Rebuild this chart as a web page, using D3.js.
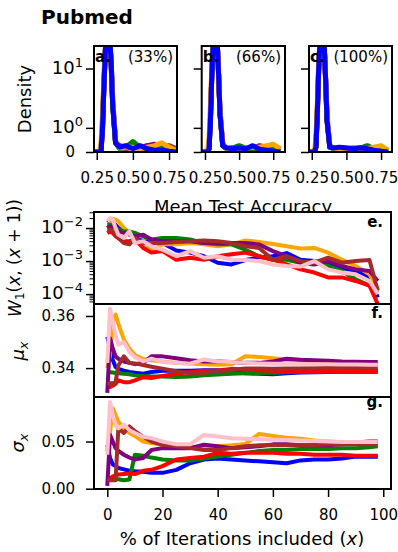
<!DOCTYPE html>
<html>
<head>
<meta charset="utf-8">
<script src="https://cdn.jsdelivr.net/npm/d3@7"></script>
<style>
body { margin: 0; background: #fff; }
text { font-family: "DejaVu Sans", sans-serif; }
</style>
</head>
<body>
<svg id="chart" width="398" height="552"></svg>
<script>
// series order used in every array below
var colors = ["blue", "orange", "green", "red", "purple", "brown", "pink"];

// ---- density panels (a, b, c) ----
var densX = [0.23, 0.27, 0.28, 0.29, 0.30, 0.31, 0.32, 0.33, 0.34, 0.35, 0.36, 0.38, 0.41, 0.45, 0.50, 0.55, 0.60, 0.65, 0.70, 0.75, 0.80];

var densA = [
    [0, 0, 0.05, 1, 6, 18, 30, 32, 25, 12, 3, 0.3, 0.15, 0.2, 0.1, 0.2, 0.1, 0.05, 0.05, 0.02, 0],
    [0, 0.02, 0.3, 2, 8, 20, 30, 30, 24, 12, 4, 0.4, 0.12, 0.15, 0.15, 0.1, 0.15, 0.2, 0.3, 0.15, 0.05],
    [0, 0, 0.05, 1, 6, 18, 30, 32, 25, 11, 3, 0.3, 0.1, 0.15, 0.35, 0.15, 0.1, 0.15, 0.1, 0.05, 0],
    [0, 0, 0.05, 1, 6, 18, 30, 32, 25, 11, 3, 0.3, 0.2, 0.15, 0.2, 0.1, 0.1, 0.05, 0.1, 0.05, 0],
    [0, 0, 0.05, 1, 6, 18, 30, 32, 25, 11, 3, 0.3, 0.1, 0.15, 0.2, 0.1, 0.2, 0.25, 0.15, 0.1, 0.05],
    [0, 0.01, 0.15, 1.5, 7, 19, 30, 31, 24, 12, 3.5, 0.35, 0.15, 0.1, 0.15, 0.15, 0.2, 0.15, 0.2, 0.2, 0.1],
    [0, 0, 0.1, 1.2, 6, 18, 30, 32, 25, 11, 3, 0.3, 0.15, 0.2, 0.15, 0.1, 0.15, 0.1, 0.1, 0.05, 0]
];
var densB = [
    [0, 0, 0.1, 1.5, 8, 22, 32, 32, 22, 8, 2, 0.2, 0.12, 0.1, 0.12, 0.1, 0.2, 0.08, 0.05, 0.02, 0],
    [0, 0.05, 0.5, 3, 10, 24, 32, 31, 21, 8, 2.5, 0.3, 0.1, 0.1, 0.1, 0.12, 0.15, 0.15, 0.2, 0.25, 0.1],
    [0, 0, 0.1, 1.5, 8, 22, 32, 32, 22, 8, 2, 0.2, 0.1, 0.12, 0.2, 0.12, 0.1, 0.1, 0.15, 0.05, 0],
    [0, 0, 0.1, 1.5, 8, 22, 32, 32, 22, 8, 2, 0.2, 0.1, 0.1, 0.12, 0.1, 0.1, 0.1, 0.1, 0.05, 0],
    [0, 0, 0.1, 1.5, 8, 22, 32, 32, 22, 8, 2, 0.2, 0.1, 0.12, 0.1, 0.1, 0.12, 0.2, 0.15, 0.05, 0],
    [0, 0, 0.15, 2, 9, 22, 32, 32, 22, 8, 2.2, 0.25, 0.12, 0.1, 0.12, 0.1, 0.1, 0.15, 0.15, 0.1, 0.05],
    [0, 0, 0.1, 1.5, 8, 22, 32, 32, 22, 8, 2, 0.25, 0.12, 0.12, 0.12, 0.12, 0.12, 0.12, 0.12, 0.1, 0.05]
];
var densC = [
    [0, 0, 0.15, 2, 10, 25, 33, 32, 20, 7, 1.5, 0.15, 0.12, 0.15, 0.12, 0.1, 0.12, 0.1, 0.05, 0.02, 0],
    [0, 0.05, 0.5, 3, 12, 26, 33, 31, 20, 7, 2, 0.2, 0.1, 0.1, 0.1, 0.12, 0.1, 0.1, 0.15, 0.2, 0.05],
    [0, 0, 0.15, 2, 10, 25, 33, 32, 20, 7, 1.5, 0.15, 0.1, 0.1, 0.12, 0.1, 0.12, 0.2, 0.1, 0.05, 0],
    [0, 0, 0.15, 2, 10, 25, 33, 32, 20, 7, 1.5, 0.15, 0.1, 0.1, 0.1, 0.1, 0.1, 0.1, 0.1, 0.05, 0],
    [0, 0, 0.15, 2, 10, 25, 33, 32, 20, 7, 1.5, 0.15, 0.1, 0.12, 0.1, 0.12, 0.12, 0.15, 0.1, 0.05, 0],
    [0, 0, 0.2, 2.5, 11, 25, 33, 32, 20, 7, 1.8, 0.2, 0.12, 0.1, 0.1, 0.1, 0.1, 0.1, 0.12, 0.1, 0.05],
    [0, 0, 0.15, 2, 10, 25, 33, 32, 20, 7, 1.5, 0.2, 0.12, 0.12, 0.12, 0.1, 0.1, 0.1, 0.1, 0.08, 0.05]
];
var densLetters = ["a.", "b.", "c."];
var densPercents = ["(33%)", "(66%)", "(100%)"];
var accTicks = [0.25, 0.50, 0.75];
var densTicks = [0, 1, 10];

// ---- iteration panels (e, f, g) ----
var iters = [0, 1, 2, 3, 4, 6, 8, 10, 13, 16, 20, 25, 30, 35, 40, 45, 50, 55, 60, 65, 70, 75, 80, 85, 90, 95, 98];

var w1 = [
    [1.74e-2, 1.6e-2, 1.4e-2, 1.26e-2, 1.0e-2, 7.9e-3, 7.1e-3, 5.0e-3, 4.0e-3, 3.8e-3, 3.5e-3, 2.1e-3, 1.8e-3, 1.4e-3, 8.9e-4, 7.9e-4, 1.07e-3, 1.26e-3, 1.4e-3, 1.74e-3, 1.1e-3, 1.0e-3, 7.9e-4, 6.3e-4, 5.0e-4, 3.2e-4, 7.9e-5],
    [1.0e-2, 1.26e-2, 1.9e-2, 1.8e-2, 1.6e-2, 1.0e-2, 7.1e-3, 4.5e-3, 2.8e-3, 2.1e-3, 3.2e-3, 3.2e-3, 3.5e-3, 3.2e-3, 2.8e-3, 3.2e-3, 4.2e-3, 3.8e-3, 3.3e-3, 2.8e-3, 2.4e-3, 2.5e-3, 1.8e-3, 1.1e-3, 7.1e-4, 4.0e-4, 1.4e-4],
    [1.26e-2, 1.26e-2, 1.1e-2, 1.0e-2, 8.9e-3, 7.9e-3, 7.9e-3, 7.1e-3, 5.6e-3, 4.5e-3, 5.0e-3, 5.0e-3, 4.5e-3, 3.5e-3, 3.2e-3, 3.2e-3, 2.2e-3, 1.4e-3, 1.1e-3, 1.1e-3, 8.9e-4, 8.9e-4, 7.1e-4, 5.0e-4, 2.8e-4, 1.8e-4, 1.1e-4],
    [7.1e-3, 7.9e-3, 7.1e-3, 5.6e-3, 5.0e-3, 4.0e-3, 4.0e-3, 4.5e-3, 2.5e-3, 1.8e-3, 2.0e-3, 1.1e-3, 1.26e-3, 1.1e-3, 1.4e-3, 1.6e-3, 1.8e-3, 1.4e-3, 1.1e-3, 7.9e-4, 5.6e-4, 4.5e-4, 3.2e-4, 3.2e-4, 2.5e-4, 1.8e-4, 5.0e-5],
    [1.0e-2, 1.1e-2, 1.1e-2, 1.0e-2, 7.9e-3, 7.1e-3, 6.3e-3, 5.6e-3, 6.3e-3, 4.5e-3, 4.0e-3, 4.0e-3, 4.0e-3, 3.5e-3, 3.5e-3, 3.5e-3, 3.5e-3, 3.2e-3, 2.0e-3, 1.4e-3, 8.9e-4, 7.9e-4, 1.0e-3, 7.1e-4, 5.6e-4, 5.0e-4, 2.5e-4],
    [8.9e-3, 8.9e-3, 7.9e-3, 6.3e-3, 5.0e-3, 3.5e-3, 3.2e-3, 5.0e-3, 3.5e-3, 3.5e-3, 3.5e-3, 3.8e-3, 4.0e-3, 4.2e-3, 4.0e-3, 3.5e-3, 2.8e-3, 2.5e-3, 1.1e-3, 1.4e-3, 1.0e-3, 8.9e-4, 1.26e-3, 8.9e-4, 1.0e-3, 1.07e-3, 1.26e-4],
    [1.6e-2, 2.0e-2, 1.8e-2, 1.0e-2, 6.3e-3, 5.0e-3, 7.9e-3, 3.5e-3, 4.0e-3, 2.8e-3, 2.2e-3, 1.4e-3, 2.0e-3, 1.26e-3, 1.4e-3, 1.1e-3, 1.07e-3, 1.0e-3, 7.9e-4, 7.1e-4, 6.8e-4, 1.0e-3, 5.6e-4, 4.5e-4, 4.0e-4, 2.5e-4, 1.0e-4]
];

var mu = [
    [0.3520, 0.3474, 0.3430, 0.3404, 0.3397, 0.3390, 0.3385, 0.3382, 0.3378, 0.3385, 0.3390, 0.3390, 0.3390, 0.3392, 0.3392, 0.3385, 0.3380, 0.3378, 0.3376, 0.3380, 0.3383, 0.3384, 0.3385, 0.3386, 0.3387, 0.3388, 0.3389],
    [0.3400, 0.3450, 0.3580, 0.3605, 0.3570, 0.3510, 0.3475, 0.3450, 0.3435, 0.3430, 0.3425, 0.3420, 0.3418, 0.3415, 0.3413, 0.3415, 0.3445, 0.3443, 0.3438, 0.3432, 0.3428, 0.3425, 0.3422, 0.3420, 0.3418, 0.3418, 0.3417],
    [0.3385, 0.3384, 0.3383, 0.3381, 0.3380, 0.3378, 0.3376, 0.3372, 0.3370, 0.3368, 0.3368, 0.3366, 0.3368, 0.3372, 0.3375, 0.3378, 0.3380, 0.3381, 0.3382, 0.3384, 0.3386, 0.3387, 0.3388, 0.3389, 0.3390, 0.3391, 0.3392],
    [0.3333, 0.3327, 0.3333, 0.3340, 0.3353, 0.3346, 0.3346, 0.3353, 0.3365, 0.3362, 0.3370, 0.3378, 0.3385, 0.3390, 0.3391, 0.3397, 0.3395, 0.3392, 0.3390, 0.3388, 0.3387, 0.3386, 0.3386, 0.3385, 0.3385, 0.3385, 0.3385],
    [0.3305, 0.3515, 0.3474, 0.3445, 0.3436, 0.3425, 0.3420, 0.3415, 0.3420, 0.3445, 0.3445, 0.3438, 0.3430, 0.3425, 0.3425, 0.3423, 0.3420, 0.3420, 0.3425, 0.3436, 0.3432, 0.3430, 0.3428, 0.3425, 0.3424, 0.3423, 0.3423],
    [0.3340, 0.3342, 0.3342, 0.3345, 0.3410, 0.3445, 0.3420, 0.3418, 0.3412, 0.3405, 0.3398, 0.3388, 0.3380, 0.3382, 0.3388, 0.3393, 0.3398, 0.3398, 0.3397, 0.3398, 0.3398, 0.3399, 0.3400, 0.3400, 0.3400, 0.3401, 0.3401],
    [0.3420, 0.3628, 0.3577, 0.3526, 0.3490, 0.3500, 0.3462, 0.3442, 0.3426, 0.3436, 0.3423, 0.3420, 0.3417, 0.3433, 0.3425, 0.3423, 0.3420, 0.3418, 0.3417, 0.3417, 0.3416, 0.3415, 0.3415, 0.3414, 0.3414, 0.3413, 0.3413]
];

var sigma = [
    [0.0466, 0.0326, 0.0256, 0.0240, 0.0220, 0.0205, 0.0190, 0.0185, 0.0180, 0.0168, 0.0168, 0.0200, 0.0270, 0.0310, 0.0320, 0.0310, 0.0300, 0.0290, 0.0280, 0.0270, 0.0300, 0.0310, 0.0310, 0.0320, 0.0340, 0.0340, 0.0340],
    [0.0400, 0.0600, 0.0850, 0.0780, 0.0710, 0.0640, 0.0590, 0.0560, 0.0500, 0.0485, 0.0466, 0.0450, 0.0440, 0.0450, 0.0450, 0.0460, 0.0475, 0.0580, 0.0560, 0.0540, 0.0530, 0.0510, 0.0500, 0.0490, 0.0480, 0.0470, 0.0470],
    [0.0098, 0.0100, 0.0100, 0.0100, 0.0100, 0.0090, 0.0098, 0.0360, 0.0350, 0.0330, 0.0310, 0.0300, 0.0300, 0.0320, 0.0340, 0.0360, 0.0380, 0.0400, 0.0410, 0.0410, 0.0420, 0.0420, 0.0420, 0.0430, 0.0430, 0.0440, 0.0450],
    [0.0116, 0.0110, 0.0130, 0.0140, 0.0150, 0.0155, 0.0160, 0.0155, 0.0190, 0.0200, 0.0240, 0.0310, 0.0326, 0.0340, 0.0380, 0.0370, 0.0380, 0.0380, 0.0380, 0.0370, 0.0370, 0.0360, 0.0360, 0.0360, 0.0350, 0.0350, 0.0350],
    [0.0030, 0.0570, 0.0500, 0.0430, 0.0400, 0.0360, 0.0330, 0.0310, 0.0326, 0.0410, 0.0430, 0.0430, 0.0430, 0.0466, 0.0450, 0.0430, 0.0440, 0.0450, 0.0470, 0.0470, 0.0460, 0.0460, 0.0460, 0.0470, 0.0490, 0.0500, 0.0500],
    [0.0098, 0.0090, 0.0090, 0.0090, 0.0640, 0.0590, 0.0660, 0.0610, 0.0550, 0.0500, 0.0466, 0.0450, 0.0430, 0.0410, 0.0410, 0.0430, 0.0450, 0.0460, 0.0460, 0.0460, 0.0460, 0.0460, 0.0470, 0.0470, 0.0470, 0.0470, 0.0470],
    [0.0360, 0.0920, 0.0780, 0.0670, 0.0640, 0.0680, 0.0620, 0.0590, 0.0550, 0.0536, 0.0500, 0.0470, 0.0470, 0.0570, 0.0553, 0.0536, 0.0530, 0.0525, 0.0520, 0.0515, 0.0510, 0.0505, 0.0500, 0.0495, 0.0495, 0.0495, 0.0495]
];

var iterTicks = [0, 20, 40, 60, 80, 100];
var muTicks = [0.34, 0.36];
var sigmaTicks = [0.00, 0.05];
var w1Ticks = [1e-2, 1e-3, 1e-4];


var svg = d3.select("#chart");
svg.append("rect").attr("width", 398).attr("height", 552).attr("fill", "white");

var tickLen = 8, yPad = 11, xPad = 12;

function styleAxis(g) {
    g.select(".domain").remove();
    g.selectAll(".tick line").attr("stroke", "black").attr("stroke-width", 1.5);
    g.selectAll(".tick text")
        .attr("fill", "black")
        .style("font-family", "'DejaVu Sans', sans-serif")
        .style("font-size", "15px");
}

function powLabel(sel, exp) {
    sel.text(null);
    sel.append("tspan").style("font-size", "18px").text("10");
    sel.append("tspan").attr("dy", "-0.55em").style("font-size", "13px").text(exp);
}

function clipFor(id, x0, y0, x1, y1) {
    svg.append("clipPath").attr("id", id)
        .append("rect").attr("x", x0).attr("y", y0).attr("width", x1 - x0).attr("height", y1 - y0);
}

function frame(x0, y0, x1, y1) {
    svg.append("rect")
        .attr("x", x0).attr("y", y0)
        .attr("width", x1 - x0).attr("height", y1 - y0)
        .attr("fill", "none").attr("stroke", "black").attr("stroke-width", 2);
}

// title
svg.append("text").attr("x", 41).attr("y", 24)
    .style("font-size", "20px").style("font-weight", "bold")
    .text("Pubmed");

// ---- density panels ----
var densTop = 46, densBottom = 152;
var yDens = d3.scaleSymlog().constant(1).domain([0, 20]).range([densBottom, densTop]);

var densPanels = [
    { left: 94, right: 177, dom: [0.231, 0.805], data: densA },
    { left: 201.7, right: 285, dom: [0.226, 0.836], data: densB },
    { left: 309, right: 392, dom: [0.23, 0.829], data: densC }
];

densPanels.forEach(function (p, i) {
    var x = d3.scaleLinear().domain(p.dom).range([p.left, p.right]);
    clipFor("clipd" + i, p.left, densTop, p.right, densBottom);

    var line = d3.line()
        .x(function (d, j) { return x(densX[j]); })
        .y(function (d) { return yDens(d); });

    var lines = svg.append("g").attr("clip-path", "url(#clipd" + i + ")");
    for (var k = p.data.length - 1; k >= 0; k--) {
        lines.append("path")
            .datum(p.data[k])
            .attr("d", line)
            .attr("fill", "none")
            .attr("stroke", colors[k])
            .attr("stroke-width", 5)
            .attr("stroke-linejoin", "round");
    }

    frame(p.left, densTop, p.right, densBottom);

    var xa = svg.append("g").attr("transform", "translate(0," + densBottom + ")")
        .call(d3.axisBottom(x).tickValues(accTicks).tickFormat(d3.format(".2f")).tickSize(tickLen).tickPadding(xPad));
    styleAxis(xa);

    var ya = svg.append("g").attr("transform", "translate(" + p.left + ",0)")
        .call(d3.axisLeft(yDens).tickValues(densTicks).tickFormat(function (d) { return d == 0 ? "0" : ""; }).tickSize(tickLen).tickPadding(yPad));
    styleAxis(ya);
    if (i == 0) {
        ya.selectAll(".tick text").each(function (d) {
            if (d == 1) powLabel(d3.select(this).attr("x", -11), "0");
            if (d == 10) powLabel(d3.select(this).attr("x", -11), "1");
        });
    } else {
        ya.selectAll(".tick text").remove();
    }

    svg.append("text").attr("x", p.left + 1).attr("y", 62)
        .style("font-size", "15px").style("font-weight", "bold")
        .text(densLetters[i]);
    svg.append("text").attr("x", p.right - 4).attr("y", 62)
        .attr("text-anchor", "end")
        .style("font-size", "15px")
        .text(densPercents[i]);
});

svg.append("text")
    .attr("transform", "translate(31,99) rotate(-90)")
    .attr("text-anchor", "middle")
    .style("font-size", "18px")
    .text("Density");

svg.append("text").attr("x", 243).attr("y", 212.5)
    .attr("text-anchor", "middle")
    .style("font-size", "18px")
    .text("Mean Test Accuracy");

// ---- iteration panels ----
var left = 94, right = 391;
var xIt = d3.scaleLinear().domain([-4.82, 102.8]).range([left, right]);

var itPanels = [
    { top: 212, bottom: 304, data: w1, y: d3.scaleLog().domain([Math.pow(10, -4.30), Math.pow(10, -1.515)]).range([304, 212]), letter: "e.", ly: 227 },
    { top: 304, bottom: 397, data: mu, y: d3.scaleLinear().domain([0.3289, 0.3646]).range([397, 304]), letter: "f.", ly: 318 },
    { top: 397, bottom: 489, data: sigma, y: d3.scaleLinear().domain([-0.0003, 0.0972]).range([489, 397]), letter: "g.", ly: 407 }
];

itPanels.forEach(function (p, i) {
    svg.append("rect").attr("x", left).attr("y", p.top)
        .attr("width", right - left).attr("height", p.bottom - p.top)
        .attr("fill", "white");
    clipFor("clipi" + i, left, p.top, right, p.bottom);

    var line = d3.line()
        .x(function (d, j) { return xIt(iters[j]); })
        .y(function (d) { return p.y(d); });

    var lines = svg.append("g").attr("clip-path", "url(#clipi" + i + ")");
    p.data.forEach(function (s, k) {
        lines.append("path")
            .datum(s)
            .attr("d", line)
            .attr("fill", "none")
            .attr("stroke", colors[k])
            .attr("stroke-width", 4)
            .attr("stroke-linejoin", "round");
    });

    svg.append("text").attr("x", 383).attr("y", p.ly)
        .attr("text-anchor", "end")
        .style("font-size", "15px").style("font-weight", "bold")
        .text(p.letter);
});

// e: log axis with minor ticks
var yW = itPanels[0].y;
var minor = yW.ticks().filter(function (t) { return w1Ticks.indexOf(t) < 0; });
var ymin = svg.append("g").attr("transform", "translate(" + left + ",0)")
    .call(d3.axisLeft(yW).tickValues(minor).tickSize(4.5).tickFormat(""));
styleAxis(ymin);
ymin.selectAll(".tick line").attr("stroke-width", 1);
var ye = svg.append("g").attr("transform", "translate(" + left + ",0)")
    .call(d3.axisLeft(yW).tickValues(w1Ticks).tickSize(tickLen).tickPadding(3));
styleAxis(ye);
ye.selectAll(".tick text").each(function (d) {
    powLabel(d3.select(this), "\u2212" + Math.round(-Math.log10(d)));
});

var yf = svg.append("g").attr("transform", "translate(" + left + ",0)")
    .call(d3.axisLeft(itPanels[1].y).tickValues(muTicks).tickFormat(d3.format(".2f")).tickSize(tickLen).tickPadding(yPad));
styleAxis(yf);

var yg = svg.append("g").attr("transform", "translate(" + left + ",0)")
    .call(d3.axisLeft(itPanels[2].y).tickValues(sigmaTicks).tickFormat(d3.format(".2f")).tickSize(tickLen).tickPadding(yPad));
styleAxis(yg);

var xg = svg.append("g").attr("transform", "translate(0,489)")
    .call(d3.axisBottom(xIt).tickValues(iterTicks).tickSize(tickLen).tickPadding(xPad));
styleAxis(xg);

itPanels.forEach(function (p) { frame(left, p.top, right, p.bottom); });

// axis labels
var wl = svg.append("text")
    .attr("transform", "translate(21,258) rotate(-90)")
    .attr("text-anchor", "middle")
    .style("font-size", "17px");
wl.append("tspan").style("font-style", "italic").text("W");
wl.append("tspan").attr("dy", "0.25em").style("font-size", "12px").text("1");
wl.append("tspan").attr("dy", "-0.25em").text("(");
wl.append("tspan").style("font-style", "italic").text("x");
wl.append("tspan").text(", (");
wl.append("tspan").style("font-style", "italic").text("x");
wl.append("tspan").text(" + 1))");

function subLabel(cy, sym) {
    var t = svg.append("text")
        .attr("transform", "translate(24," + cy + ") rotate(-90)")
        .attr("text-anchor", "middle")
        .style("font-size", "18px");
    t.append("tspan").style("font-style", "italic").text(sym);
    t.append("tspan").attr("dy", "0.3em").style("font-size", "13px").style("font-style", "italic").text("x");
}
subLabel(351, "\u03bc");
subLabel(443, "\u03c3");

var xl = svg.append("text").attr("x", 242).attr("y", 545)
    .attr("text-anchor", "middle")
    .style("font-size", "18px");
xl.append("tspan").text("% of Iterations included (");
xl.append("tspan").style("font-style", "italic").text("x");
xl.append("tspan").text(")");
</script>
</body>
</html>
